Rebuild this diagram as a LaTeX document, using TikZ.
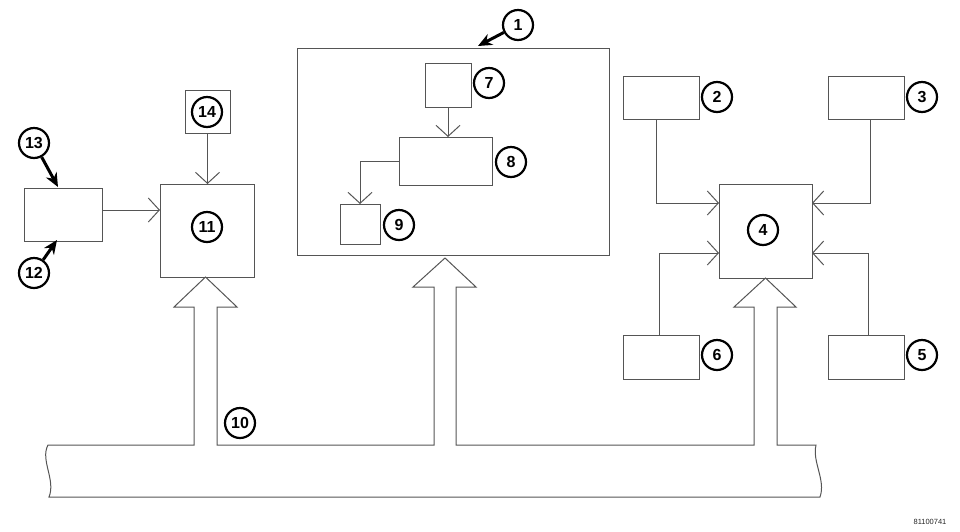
\documentclass[tikz,border=0pt]{standalone}
\usepackage{fontspec}
\setmainfont{Liberation Sans}
\usetikzlibrary{arrows.meta,calc}
\definecolor{ln}{RGB}{85,85,85}
\tikzset{
  blk/.style={draw=ln,line width=1pt,inner sep=0pt,outer sep=0pt,fill=white},
  conn/.style={draw=ln,line width=1pt,-{Straight Barb[length=11pt,width=24pt,line width=1pt]}},
  callout/.style={circle,draw=black,line width=2.2pt,minimum size=30pt,inner sep=0pt,font=\fontsize{16}{16}\selectfont\bfseries},
  pointer/.style={draw=black,line width=3pt,-{Stealth[length=14pt,width=12pt]}},
  bus/.style={draw=ln,line width=1pt}
}
\begin{document}
\begin{tikzpicture}[x=1pt,y=-1pt]
\useasboundingbox (0,0) rectangle (960,531);
% boxes
\node[blk,minimum width=78pt,minimum height=53pt] (b13) at (63,214.5) {};
\node[blk,minimum width=94pt,minimum height=93pt] (b11) at (207,230.5) {};
\node[blk,minimum width=45pt,minimum height=43pt] (b14) at (207.5,111.5) {};
\node[blk,minimum width=312pt,minimum height=207pt] (b1) at (453,151.5) {};
\node[blk,minimum width=46pt,minimum height=44pt] (b7) at (448,85) {};
\node[blk,minimum width=93pt,minimum height=48pt] (b8) at (445.5,161) {};
\node[blk,minimum width=40pt,minimum height=40pt] (b9) at (360,224) {};
\node[blk,minimum width=76pt,minimum height=43pt] (b2) at (661,97.5) {};
\node[blk,minimum width=76pt,minimum height=43pt] (b3) at (866,97.5) {};
\node[blk,minimum width=93pt,minimum height=94pt] (b4) at (765.5,231) {};
\node[blk,minimum width=76pt,minimum height=44pt] (b6) at (661,357) {};
\node[blk,minimum width=76pt,minimum height=44pt] (b5) at (866,357) {};
% connectors
\coordinate (y210) at (0,210);
\draw[conn] (b13.east |- y210) -- (b11.west |- y210);
\draw[conn] (b14.south) -- (b14.south |- b11.north);
\draw[conn] (b7.south) -- (b7.south |- b8.north);
\draw[conn] (b8.west) -| (b9.north);
\draw[conn] ([xshift=-5pt]b2.south) |- ([yshift=28pt]b4.west);
\draw[conn] ([xshift=4pt]b3.south) |- ([yshift=28pt]b4.east);
\draw[conn] ([xshift=-2pt]b6.north) |- ([yshift=-22pt]b4.west);
\draw[conn] ([xshift=2pt]b5.north) |- ([yshift=-22pt]b4.east);
% bus with hollow arrows
\draw[bus,line join=miter]
  (194,307) -- (194,445) -- (48,445)
  .. controls (40,460) and (56,480) .. (49,497)
  -- (820,497)
  .. controls (826,480) and (812,462) .. (816,445)
  -- (777,445) -- (777,307) -- (796,307) -- (b4.south) -- (734,307) -- (754,307)
  -- (754,445) -- (456,445) -- (456,287) -- (476,287) -- (445,258) -- (413,287) -- (434,287)
  -- (434,445) -- (217,445) -- (217,307) -- (237,307) -- (205.5,277) -- (174,307) -- cycle;
% callouts
\node[callout] (c1) at (518,25) {1};
\node[callout] (c2) at (717,97) {2};
\node[callout] (c3) at (922,97) {3};
\node[callout] (c4) at (763,230) {4};
\node[callout] (c5) at (922,355) {5};
\node[callout] (c6) at (717,355) {6};
\node[callout] (c7) at (489,83) {7};
\node[callout] (c8) at (511,162) {8};
\node[callout] (c9) at (399,225) {9};
\node[callout] (c10) at (240,423) {10};
\node[callout] (c11) at (207,227) {11};
\node[callout] (c12) at (34,273) {12};
\node[callout] (c13) at (34,143) {13};
\node[callout] (c14) at (207,112) {14};
% pointers
\coordinate (p1) at (478,46);
\coordinate (p13) at (58,187);
\coordinate (p12) at (57,240);
\draw[pointer] (c1) -- (p1);
\draw[pointer] (c13) -- (p13);
\draw[pointer] (c12) -- (p12);
% code
\node[font=\fontsize{7.5}{8}\selectfont,text=black!85] (code) at (930,522) {81100741};
\end{tikzpicture}
\end{document}
